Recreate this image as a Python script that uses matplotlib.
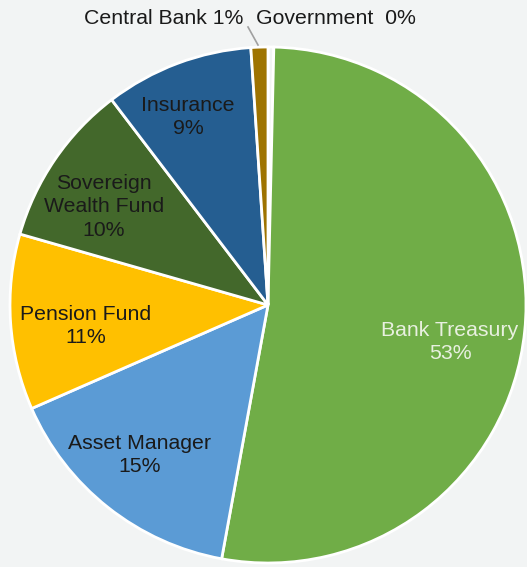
import matplotlib
matplotlib.use("Agg")
import matplotlib.pyplot as plt

categories = ["Bank Treasury", "Asset Manager", "Pension Fund",
              "Sovereign\nWealth Fund", "Insurance", "Central Bank", "Government"]
shares = [52.5, 15.55, 11.0, 10.2, 9.3, 1.06, 0.36]
shown_pct = [53, 15, 11, 10, 9, 1, 0]
colors = ["#70ad47", "#5b9bd5", "#ffc000", "#43682b", "#255e91", "#9e7300", "#f2f4f4"]

plt.rcParams["font.family"] = ["Liberation Sans", "DejaVu Sans"]
W, H = 527, 567
fig = plt.figure(figsize=(W / 100, H / 100), dpi=100, facecolor="#f2f4f4")
ax = fig.add_axes([0, 0, 1, 1])
ax.set_facecolor("#f2f4f4")

cx, cy, r = 268, H - 305, 258
# clockwise from top: government first, then bank treasury ...
order = [6, 0, 1, 2, 3, 4, 5]
ax.pie([shares[i] for i in order], colors=[colors[i] for i in order],
       startangle=90, counterclock=False, center=(cx, cy), radius=r,
       wedgeprops=dict(edgecolor="white", linewidth=2.0), frame=True)
ax.set_xlim(0, W); ax.set_ylim(0, H)
ax.set_aspect("equal")
ax.axis("off")

# label positions (pixels from top-left)
pos = [(450, 342), (140, 455), (86, 326), (104, 207), (188, 117), (164, 18), (336, 18)]
fs = 15.3
for i, (name, p) in enumerate(zip(categories, shown_pct)):
    x, y = pos[i]
    if i >= 5:
        txt = f"{name} {p}%" if i == 5 else f"{name}  {p}%"
    else:
        txt = f"{name}\n{p}%"
    col = "#e8f0e0" if i == 0 else "#1a1a1a"
    ax.text(x, H - y, txt, ha="center", va="center", fontsize=fs, color=col, linespacing=1.33)

ax.plot([248, 258], [H - 27, H - 45], color="#a0a0a0", lw=1.2)

fig.savefig("out.png", dpi=100, facecolor=fig.get_facecolor())
